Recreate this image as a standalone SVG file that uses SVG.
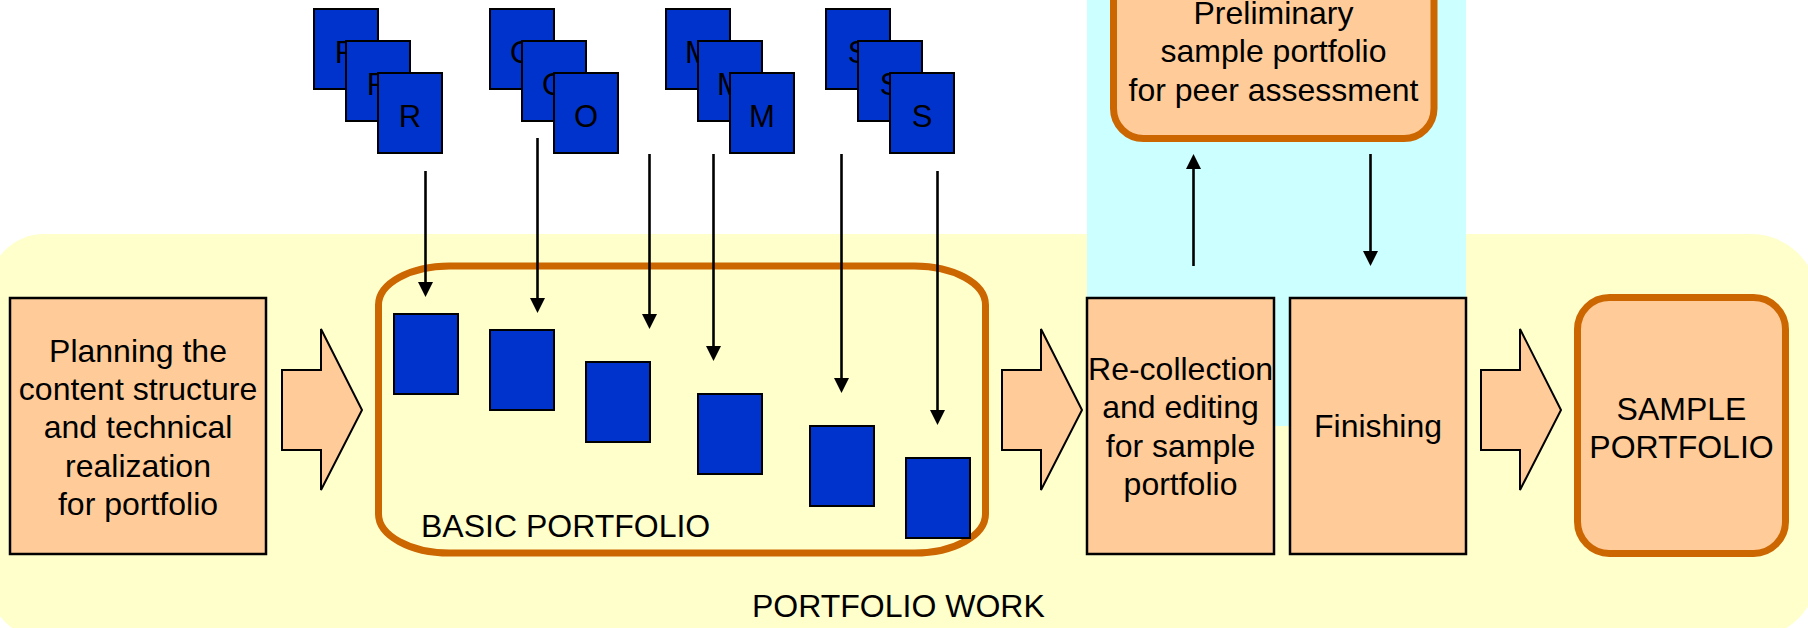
<svg xmlns="http://www.w3.org/2000/svg" width="1808" height="628" viewBox="0 0 1808 628">
<style>
text{font-family:"Liberation Sans",Arial,Helvetica,sans-serif;fill:#000;}
.t32{font-size:32px;}
.mid{text-anchor:middle;}
.card{fill:#0033CC;stroke:#000;stroke-width:2;}
.letter{font-size:31px;text-anchor:middle;}
.box{fill:#FFCC99;stroke:#000;stroke-width:2.5;}
.rbox{fill:#FFCC99;stroke:#CC6600;stroke-width:7;}
.big{fill:#FFCC99;stroke:#000;stroke-width:2;stroke-linejoin:miter;}
.conn{stroke:#000;stroke-width:2.6;fill:none;marker-end:url(#ah);}
</style>
<defs>
<marker id="ah" viewBox="0 0 15 15" refX="7" refY="7.5" markerWidth="15" markerHeight="15" markerUnits="userSpaceOnUse" orient="auto">
<path d="M0,0 L15,7.5 L0,15 z" fill="#000"/>
</marker>
<polygon id="blockArrow" points="282,370 321,370 321,329 362,410 321,490 321,450 282,450"/>
</defs>

<g id="portfolio-work">
<path d="M44,234 H1751 A67,67 0 0 1 1818,301 V571 A67,67 0 0 1 1751,638 H44 A55,55 0 0 1 -11,583 V289 A55,55 0 0 1 44,234 Z" fill="#FFFFCC"/>
<text class="t32" x="752" y="617">PORTFOLIO WORK</text>
</g>

<g id="peer-zone">
<rect x="1087" y="0" width="379" height="426" fill="#CCFFFF"/>
</g>

<g id="preliminary">
<rect class="rbox" x="1113.5" y="-40" width="320.5" height="178.5" rx="30" ry="30"/>
<text class="t32 mid" x="1273.5" y="24">Preliminary</text>
<text class="t32 mid" x="1273.5" y="62.4">sample portfolio</text>
<text class="t32 mid" x="1273.5" y="100.8">for peer assessment</text>
</g>

<g id="planning">
<rect class="box" x="10" y="298" width="256" height="256"/>
<text class="t32 mid" x="138" y="361.5">Planning the</text>
<text class="t32 mid" x="138" y="399.9">content structure</text>
<text class="t32 mid" x="138" y="438.3">and technical</text>
<text class="t32 mid" x="138" y="476.7">realization</text>
<text class="t32 mid" x="138" y="515.1">for portfolio</text>
</g>

<g id="arrow-1"><use href="#blockArrow" class="big"/></g>
<g id="arrow-2"><use href="#blockArrow" class="big" transform="translate(720,0)"/></g>
<g id="arrow-3"><use href="#blockArrow" class="big" transform="translate(1199,0)"/></g>

<g id="basic-portfolio">
<rect x="378.5" y="266" width="607" height="287" rx="71" ry="39" fill="none" stroke="#CC6600" stroke-width="7"/>
<text class="t32" x="421" y="536.5">BASIC PORTFOLIO</text>
<rect class="card" x="394" y="314" width="64" height="80"/>
<rect class="card" x="490" y="330" width="64" height="80"/>
<rect class="card" x="586" y="362" width="64" height="80"/>
<rect class="card" x="698" y="394" width="64" height="80"/>
<rect class="card" x="810" y="426" width="64" height="80"/>
<rect class="card" x="906" y="458" width="64" height="80"/>
</g>

<g id="stack-R">
<rect class="card" x="314" y="9" width="64" height="80"/><text class="letter" x="346" y="63">R</text>
<rect class="card" x="346" y="41" width="64" height="80"/><text class="letter" x="378" y="95">R</text>
<rect class="card" x="378" y="73" width="64" height="80"/><text class="letter" x="410" y="127">R</text>
</g>
<g id="stack-O">
<rect class="card" x="490" y="9" width="64" height="80"/><text class="letter" x="522" y="63">O</text>
<rect class="card" x="522" y="41" width="64" height="80"/><text class="letter" x="554" y="95">O</text>
<rect class="card" x="554" y="73" width="64" height="80"/><text class="letter" x="586" y="127">O</text>
</g>
<g id="stack-M">
<rect class="card" x="666" y="9" width="64" height="80"/><text class="letter" x="698" y="63">M</text>
<rect class="card" x="698" y="41" width="64" height="80"/><text class="letter" x="730" y="95">M</text>
<rect class="card" x="730" y="73" width="64" height="80"/><text class="letter" x="762" y="127">M</text>
</g>
<g id="stack-S">
<rect class="card" x="826" y="9" width="64" height="80"/><text class="letter" x="858" y="63">S</text>
<rect class="card" x="858" y="41" width="64" height="80"/><text class="letter" x="890" y="95">S</text>
<rect class="card" x="890" y="73" width="64" height="80"/><text class="letter" x="922" y="127">S</text>
</g>

<g id="recollection">
<rect class="box" x="1087" y="298" width="187" height="256"/>
<text class="t32 mid" x="1180.5" y="380">Re-collection</text>
<text class="t32 mid" x="1180.5" y="418.4">and editing</text>
<text class="t32 mid" x="1180.5" y="456.8">for sample</text>
<text class="t32 mid" x="1180.5" y="495.2">portfolio</text>
</g>

<g id="finishing">
<rect class="box" x="1290" y="298" width="176" height="256"/>
<text class="t32 mid" x="1378" y="437">Finishing</text>
</g>

<g id="sample-portfolio">
<rect class="rbox" x="1577.5" y="297.5" width="208" height="256" rx="32" ry="32"/>
<text class="t32 mid" x="1681.5" y="420">SAMPLE</text>
<text class="t32 mid" x="1681.5" y="458">PORTFOLIO</text>
</g>

<g id="connectors">
<line class="conn" x1="425.5" y1="171" x2="425.5" y2="289"/>
<line class="conn" x1="537.5" y1="138" x2="537.5" y2="305"/>
<line class="conn" x1="649.5" y1="154" x2="649.5" y2="321"/>
<line class="conn" x1="713.5" y1="154" x2="713.5" y2="353"/>
<line class="conn" x1="841.5" y1="154" x2="841.5" y2="385"/>
<line class="conn" x1="937.5" y1="171" x2="937.5" y2="417"/>
<line class="conn" x1="1193.5" y1="266" x2="1193.5" y2="162"/>
<line class="conn" x1="1370.5" y1="154" x2="1370.5" y2="258"/>
</g>
</svg>
